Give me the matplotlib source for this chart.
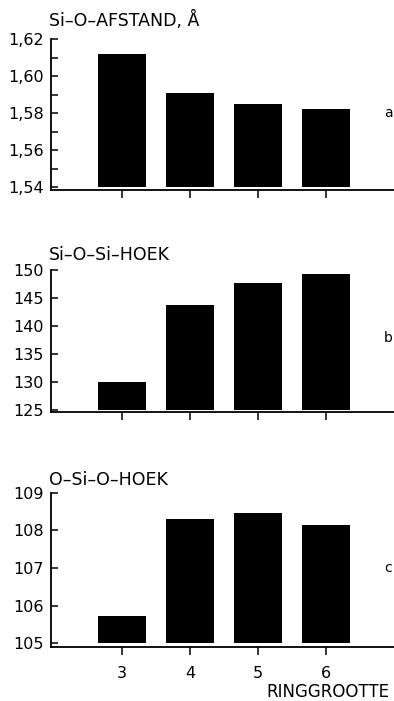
import numpy as np
import matplotlib
matplotlib.use("Agg")
import matplotlib.pyplot as plt
from matplotlib.ticker import FixedLocator, FuncFormatter

plt.rcParams['font.family'] = ['DejaVu Sans']

# data
ringSizes = [3, 4, 5, 6]
siOdistance = [1.612, 1.591, 1.585, 1.582]      # Si-O afstand, Angstrom
siOsiAngle = [130.0, 143.8, 147.6, 149.2]        # Si-O-Si hoek
oSiOangle = [105.72, 108.29, 108.45, 108.15]    # O-Si-O hoek

titles = ["Si\u2013O\u2013AFSTAND, Å", "Si\u2013O\u2013Si\u2013HOEK", "O\u2013Si\u2013O\u2013HOEK"]
panelTags = ["a", "b", "c"]
majorTicks = [[1.54, 1.56, 1.58, 1.60, 1.62],
              [125, 130, 135, 140, 145, 150],
              [105, 106, 107, 108, 109]]
minorTicks = [[1.55, 1.57, 1.59, 1.61], [], []]
baseValues = [1.54, 125, 105]
yLimits = [(1.5384, 1.62), (124.65, 150), (104.9, 109)]

W, H = 394, 701
fig = plt.figure(figsize=(W / 100, H / 100), dpi=100)

# axes boxes in pixels: top, bottom (left 51, right = edge)
boxes = [(39, 190), (270, 412), (492.7, 647)]
titleY = [20, 255, 480]
tagY = [113, 338, 568]

def commaFmt(v, pos):
    return ("%.2f" % v).replace(".", ",")

def intFmt(v, pos):
    return "%d" % v

for i, vals in enumerate([siOdistance, siOsiAngle, oSiOangle]):
    top, bottom = boxes[i]
    ax = fig.add_axes([51 / W, 1 - bottom / H, (W - 51) / W, (bottom - top) / H])
    base = baseValues[i]
    heights = [v - base for v in vals]
    ax.bar(ringSizes, heights, bottom=base, width=0.7, color="black")
    ax.set_xlim(1.96, 7.0)
    ax.set_ylim(*yLimits[i])
    ax.spines['top'].set_visible(False)
    ax.spines['right'].set_visible(False)
    for s in ('left', 'bottom'):
        ax.spines[s].set_linewidth(1.3)
    ax.yaxis.set_major_locator(FixedLocator(majorTicks[i]))
    ax.yaxis.set_minor_locator(FixedLocator(minorTicks[i]))
    ax.yaxis.set_major_formatter(FuncFormatter(commaFmt if i == 0 else intFmt))
    ax.set_xticks(ringSizes)
    if i < 2:
        ax.set_xticklabels([])
    ax.tick_params(axis='y', which='both', direction='in', length=5, width=1.1,
                   labelsize=11.5, pad=5)
    ax.tick_params(axis='x', direction='out', length=6, width=1.1, labelsize=11.5, pad=8)
    fig.text(49 / W, 1 - titleY[i] / H, titles[i], fontsize=12.5, ha='left', va='center')
    fig.text(388 / W, 1 - tagY[i] / H, panelTags[i], fontsize=10, ha='center', va='center')

fig.text(389 / W, 1 - 692 / H, "RINGGROOTTE", fontsize=12, ha='right', va='center')

fig.savefig("out.png", dpi=100)
